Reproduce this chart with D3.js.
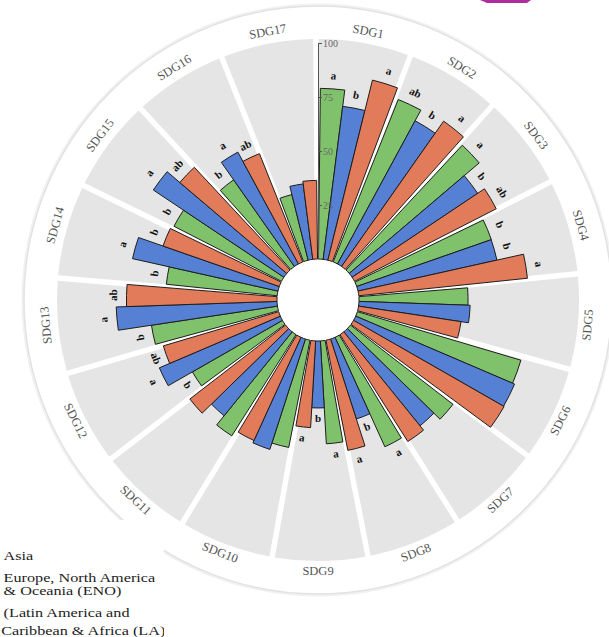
<!DOCTYPE html>
<html>
<head>
<meta charset="utf-8">
<script src="https://cdn.jsdelivr.net/npm/d3@7"></script>
<style>
  body { margin: 0; background: #fff; }
  svg { display: block; }
  text { font-family: "Liberation Serif", "Times New Roman", serif; }
</style>
</head>
<body>
<div id="chart"></div>
<script>
// categories
var sdgs = ["SDG1", "SDG2", "SDG3", "SDG4", "SDG5", "SDG6", "SDG7", "SDG8", "SDG9",
            "SDG10", "SDG11", "SDG12", "SDG13", "SDG14", "SDG15", "SDG16", "SDG17"];
var regions = ["Asia", "ENO", "LA"];

// scores
var asia = [79, 81, 79, 66, 50.5, 79, 60, 55.7, 47.7, 50.6, 55.5, 48, 59, 51.6, 55.9, 49, 31.3];
var eno  = [71.4, 75.4, 69.9, 65.9, 51.5, 80, 56, 38.9, 31, 53.7, 50, 60.9, 74.5, 69, 72.7, 58.9, 35.2];
var la   = [85.9, 82.2, 73.7, 78.5, 48, 80.3, 58.6, 52, 40.2, 52.5, 56, 55.7, 69.7, 57, 65, 54, 36.4];

// significance letters
var asiaSig = ["a", "ab", "a", "b", "", "", "", "a", "a", "", "", "b", "b", "b", "b", "b", ""];
var enoSig  = ["b", "b", "b", "b", "", "", "", "b", "b", "", "", "a", "a", "a", "a", "a", ""];
var laSig   = ["a", "a", "ab", "a", "", "", "", "a", "a", "", "", "ab", "ab", "b", "ab", "ab", ""];

var tickValues = [25, 50, 75, 100];
var legendLines = [["Asia"], ["Europe, North America", "& Oceania (ENO)"], ["(Latin America and", "Caribbean & Africa (LA)"]];

var colors = {Asia: "#7fc26b", ENO: "#5580d4", LA: "#e27b5a"};

var width = 609, height = 637;
var cx = 318, cy = 300;
var innerR = 41, outerR = 257, sectorR = 261, labelR = 272, ringR = 294;

var svg = d3.select("#chart").append("svg")
    .attr("width", width)
    .attr("height", height);

// purple fragment in the top corner
svg.append("path")
    .attr("d", "M480,0 L531,0 L527,3 L487,3 Z")
    .attr("fill", "#b02c9c");

var g = svg.append("g").attr("transform", "translate(" + cx + "," + cy + ")");

var x0 = d3.scaleBand().domain(sdgs).range([0, 2 * Math.PI]).paddingInner(0.06).paddingOuter(0.03);
var x1 = d3.scaleBand().domain(regions).range([0, x0.bandwidth()]);
var r = d3.scaleLinear().domain([0, 100]).range([innerR, outerR]);

var rows = sdgs.map(function (s, i) {
    return {
        sdg: s,
        values: [
            {key: "Asia", v: asia[i], sig: asiaSig[i]},
            {key: "ENO", v: eno[i], sig: enoSig[i]},
            {key: "LA", v: la[i], sig: laSig[i]}
        ]
    };
});

// outer label ring
g.append("circle").attr("r", ringR + 1).attr("fill", "none").attr("stroke", "#f1f1f1").attr("stroke-width", 3);
g.append("circle").attr("r", ringR).attr("fill", "#fff").attr("stroke", "#e2e2e2").attr("stroke-width", 1.5);

// grey sectors
var step = x0.step();
var sectorArc = d3.arc()
    .innerRadius(innerR)
    .outerRadius(sectorR)
    .padAngle(0.021)
    .padRadius(sectorR);

g.selectAll(".sector")
    .data(sdgs)
    .enter().append("path")
    .attr("class", "sector")
    .attr("fill", "#e5e5e5")
    .attr("d", function (d) {
        var a = x0(d) - step * 0.03 - 0.008;
        return sectorArc({startAngle: a, endAngle: a + step});
    });

// bars
var barArc = d3.arc()
    .innerRadius(innerR)
    .outerRadius(function (d) { return r(d.v); })
    .startAngle(function (d) { return d.a0; })
    .endAngle(function (d) { return d.a1; });

var groups = g.selectAll(".grp")
    .data(rows)
    .enter().append("g")
    .attr("class", "grp");

groups.selectAll("path")
    .data(function (d) {
        return d.values.map(function (e) {
            var a0 = x0(d.sdg) + x1(e.key);
            return {key: e.key, v: e.v, sig: e.sig, a0: a0, a1: a0 + x1.bandwidth()};
        });
    })
    .enter().append("path")
    .attr("d", barArc)
    .attr("fill", function (d) { return colors[d.key]; })
    .attr("stroke", "#1e1e1e")
    .attr("stroke-width", 1);

function rotFor(deg, flipEnd) {
    if (deg > 90 && deg < flipEnd) return deg - 180;
    return deg;
}

// significance letters
groups.selectAll("text")
    .data(function (d) {
        return d.values.filter(function (e) { return e.sig !== ""; }).map(function (e) {
            var a = x0(d.sdg) + x1(e.key) + x1.bandwidth() / 2;
            return {sig: e.sig, a: a, rr: r(e.v) + 12};
        });
    })
    .enter().append("text")
    .attr("transform", function (d) {
        var deg = d.a * 180 / Math.PI;
        return "translate(" + (d.rr * Math.sin(d.a)) + "," + (-d.rr * Math.cos(d.a)) + ") rotate(" + rotFor(deg, 255) + ")";
    })
    .attr("text-anchor", "middle")
    .attr("dominant-baseline", "middle")
    .attr("font-size", "11px")
    .attr("font-weight", "bold")
    .attr("fill", "#111")
    .text(function (d) { return d.sig; });

// sector labels
g.selectAll(".lab")
    .data(sdgs)
    .enter().append("text")
    .attr("class", "lab")
    .attr("transform", function (d) {
        var a = x0(d) + x0.bandwidth() / 2;
        var deg = a * 180 / Math.PI;
        return "translate(" + (labelR * Math.sin(a)) + "," + (-labelR * Math.cos(a)) + ") rotate(" + rotFor(deg, 255) + ")";
    })
    .attr("text-anchor", "middle")
    .attr("dominant-baseline", "middle")
    .attr("font-size", "12.5px")
    .attr("fill", "#555")
    .text(function (d) { return d; });

// radial axis
var yAxisScale = d3.scaleLinear().domain([0, 100]).range([-innerR, -outerR]);
var axis = g.append("g")
    .attr("class", "axis")
    .call(d3.axisRight(yAxisScale).tickValues(tickValues).tickSize(4).tickSizeOuter(0).tickPadding(1));
axis.select(".domain").attr("stroke", "#555");
axis.selectAll(".tick line").attr("stroke", "#555");
axis.selectAll(".tick text")
    .attr("fill", "#666")
    .attr("font-size", "10px")
    .attr("font-family", "\"Liberation Serif\", serif");

// centre hole
g.append("circle").attr("r", innerR - 1).attr("fill", "#fff");

// legend (cut off on the left)
var legend = svg.append("g");
legend.append("rect")
    .attr("x", 0).attr("y", 520)
    .attr("width", 164).attr("height", height - 520)
    .attr("fill", "#fff");

svg.append("clipPath").attr("id", "legclip")
    .append("rect").attr("x", 0).attr("y", 520).attr("width", 164).attr("height", height - 520);

var legendY = [560, 582, 617];
var lt = legend.append("g").attr("clip-path", "url(#legclip)")
    .append("g").attr("transform", "scale(1.2,1)");
legendLines.forEach(function (lines, i) {
    var t = lt.append("text")
        .attr("x", 3)
        .attr("y", legendY[i])
        .attr("font-size", "13.5px")
        .attr("fill", "#222");
    lines.forEach(function (line, j) {
        t.append("tspan")
            .attr("x", j === 1 && i === 2 ? 1 : 3)
            .attr("dy", j === 0 ? 0 : (i === 1 ? 13.5 : 18))
            .text(line);
    });
});
</script>
</body>
</html>
